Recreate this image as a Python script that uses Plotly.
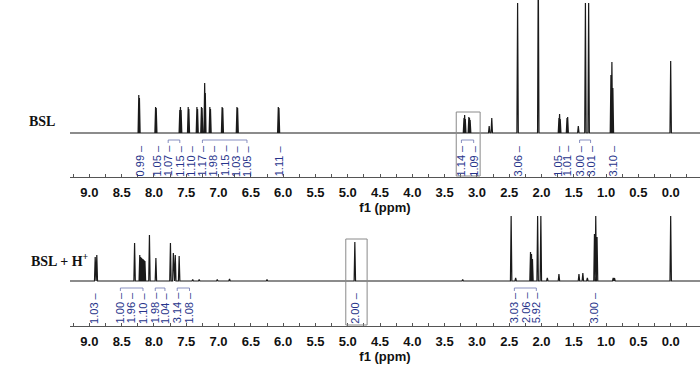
import plotly.graph_objects as go
from plotly.subplots import make_subplots

# ---------------- data (ppm, relative intensity) ----------------
# BSL spectrum lines
bsl_ppm = [8.235, 8.225, 7.975, 7.965,
           7.60, 7.59, 7.58, 7.47, 7.46, 7.335, 7.325, 7.265, 7.255,
           7.215, 7.205, 7.135, 7.125, 6.945, 6.935, 6.715, 6.705,
           6.075, 6.065,
           3.20, 3.19, 3.18, 3.125, 3.115, 3.105, 2.81, 2.77,
           2.37, 2.05,
           1.73, 1.72, 1.71, 1.605, 1.595, 1.43,
           1.32, 1.27, 0.925, 0.91, 0.895, 0.0]
bsl_int = [38, 35, 26, 25,
           23, 26, 23, 26, 24, 26, 24, 26, 25,
           50, 40, 26, 24, 26, 25, 26, 25,
           26, 25,
           15, 18, 14, 16, 15, 13, 7, 15,
           130, 170,
           15, 19, 14, 15, 16, 7,
           130, 130, 58, 71, 45, 72]

# BSL + H+ spectrum lines
bslh_ppm = [8.91, 8.885,
            8.30, 8.22, 8.205, 8.19, 8.17, 8.155, 8.14, 8.07, 7.97,
            7.745, 7.70, 7.67, 7.61,
            7.40, 7.30, 7.02, 6.83, 6.25,
            4.89, 3.22,
            2.47, 2.40, 2.17, 2.155, 2.14, 2.06, 2.01, 1.91,
            1.73, 1.42, 1.36, 1.29, 1.18, 1.16, 1.14, 0.89, 0.87, 0.0]
bslh_int = [24, 26,
            38, 26, 24, 23, 22, 21, 20, 46, 23,
            38, 28, 26, 25,
            1.5, 1.5, 1.5, 2, 1.5,
            39, 1.5,
            65, 3, 29, 27, 22, 65, 65, 3,
            7, 7, 8, 3, 47, 65, 44, 3, 3, 65]

# integration labels (ppm position, value)
bsl_lab_ppm = [8.21, 7.96, 7.78, 7.60, 7.43, 7.25, 7.08, 6.90, 6.73, 6.56, 6.06,
               3.24, 3.05, 2.37, 1.75, 1.60, 1.41, 1.24, 0.90]
bsl_lab_txt = ["0.99", "1.05", "1.07", "1.15", "1.10", "1.17", "1.98", "1.15", "1.03", "1.05", "1.11",
               "1.14", "1.09", "3.06", "1.05", "1.01", "3.00", "3.01", "3.10"]
bslh_lab_ppm = [8.93, 8.52, 8.35, 8.17, 7.98, 7.83, 7.64, 7.45,
                4.89, 2.42, 2.24, 2.08, 1.18]
bslh_lab_txt = ["1.03", "1.00", "1.96", "1.10", "1.98", "1.04", "3.14", "1.08",
                "2.00", "3.03", "2.06", "5.92", "3.00"]

# integral bracket groups (ppm from, ppm to)
bsl_groups = [[7.78, 7.60], [7.25, 6.56], [3.24, 3.05], [1.41, 1.24]]
bslh_groups = [[8.52, 8.17], [7.98, 7.83], [7.64, 7.45], [2.42, 2.08]]

# highlight boxes (ppm from, ppm to)
box_top = [3.32, 2.95]
box_bot = [5.03, 4.70]

tick_vals = [9.0, 8.5, 8.0, 7.5, 7.0, 6.5, 6.0, 5.5, 5.0, 4.5, 4.0, 3.5, 3.0, 2.5, 2.0, 1.5, 1.0, 0.5, 0.0]
tick_text = ["<b>%.1f</b>" % v for v in tick_vals]

X_RANGE = [9.30, -0.454]


def build_line(pos, hts, w=0.011):
    pts = sorted(zip(pos, hts), key=lambda t: -t[0])
    xs = [X_RANGE[0]]
    ys = [0]
    for p, h in pts:
        xs += [p + w, p, p - w]
        ys += [0, h, 0]
    xs.append(X_RANGE[1])
    ys.append(0)
    return xs, ys


fig = make_subplots(rows=2, cols=1)

x1, y1 = build_line(bsl_ppm, bsl_int)
x2, y2 = build_line(bslh_ppm, bslh_int)
fig.add_trace(go.Scatter(x=x1, y=y1, mode="lines", line=dict(color="#1a1a1a", width=1.2),
                         hoverinfo="skip", showlegend=False), row=1, col=1)
fig.add_trace(go.Scatter(x=x2, y=y2, mode="lines", line=dict(color="#1a1a1a", width=1.2),
                         hoverinfo="skip", showlegend=False), row=2, col=1)

# integral brackets
for grp, xr, yr, yv in [(bsl_groups, "x", "y", -7), (bslh_groups, "x2", "y2", -7)]:
    for a, b in grp:
        fig.add_trace(go.Scatter(x=[a, a, b, b], y=[yv - 3, yv, yv, yv - 3], mode="lines",
                                 line=dict(color="#6a74b0", width=0.8), hoverinfo="skip",
                                 showlegend=False, xaxis=xr, yaxis=yr))

H = 366.0
axis_common = dict(
    range=X_RANGE, tickmode="array", tickvals=tick_vals, ticktext=tick_text,
    showline=True, linecolor="#555", linewidth=1, ticks="inside", ticklen=3,
    tickcolor="#555", showgrid=False, zeroline=False, ticklabelstandoff=3,
    tickfont=dict(family="Liberation Sans, Arial", size=13, color="#111"),
    minor=dict(dtick=0.25, tick0=0, ticks="inside", ticklen=3, tickcolor="#555", showgrid=False),
    title=dict(text="<b>f1 (ppm)</b>", font=dict(family="Liberation Sans, Arial", size=13, color="#111"),
               standoff=1),
    domain=[0.1, 1.0],
)
fig.update_layout(
    xaxis=dict(axis_common, anchor="y"),
    xaxis2=dict(axis_common, anchor="y2"),
    yaxis=dict(domain=[1 - 177 / H, 1.0], range=[-44, 133], visible=False),
    yaxis2=dict(domain=[1 - 326 / H, 1 - 212 / H], range=[-45, 69], visible=False),
    width=700, height=366, margin=dict(l=0, r=0, t=0, b=0),
    paper_bgcolor="white", plot_bgcolor="white",
)

ann = []
lab_font = dict(family="Liberation Sans, Arial", size=11, color="#27348b")
for p, t in zip(bsl_lab_ppm, bsl_lab_txt):
    ann.append(dict(x=p, y=-28, xref="x", yref="y", text=t + " –", textangle=-90,
                    showarrow=False, font=lab_font))
for p, t in zip(bslh_lab_ppm, bslh_lab_txt):
    ann.append(dict(x=p, y=-27, xref="x2", yref="y2", text=t + " –", textangle=-90,
                    showarrow=False, font=lab_font))
side_font = dict(family="Liberation Serif, Times New Roman", size=14, color="#111")
ann.append(dict(x=27 / 700, y=1 - 112 / H, xref="paper", yref="paper", text="<b>BSL</b>",
                showarrow=False, font=side_font))
ann.append(dict(x=29 / 700, y=1 - 271 / H, xref="paper", yref="paper", text="<b>BSL + H<sup>+</sup></b>",
                showarrow=False, font=side_font))
fig.update_layout(annotations=ann)

fig.add_shape(type="rect", x0=box_top[0], x1=box_top[1], y0=-43, y1=21, xref="x", yref="y",
              line=dict(color="#8a8a8a", width=1))
fig.add_shape(type="rect", x0=box_bot[0], x1=box_bot[1], y0=-44, y1=42, xref="x2", yref="y2",
              line=dict(color="#8a8a8a", width=1))

fig.write_html("out.html")
